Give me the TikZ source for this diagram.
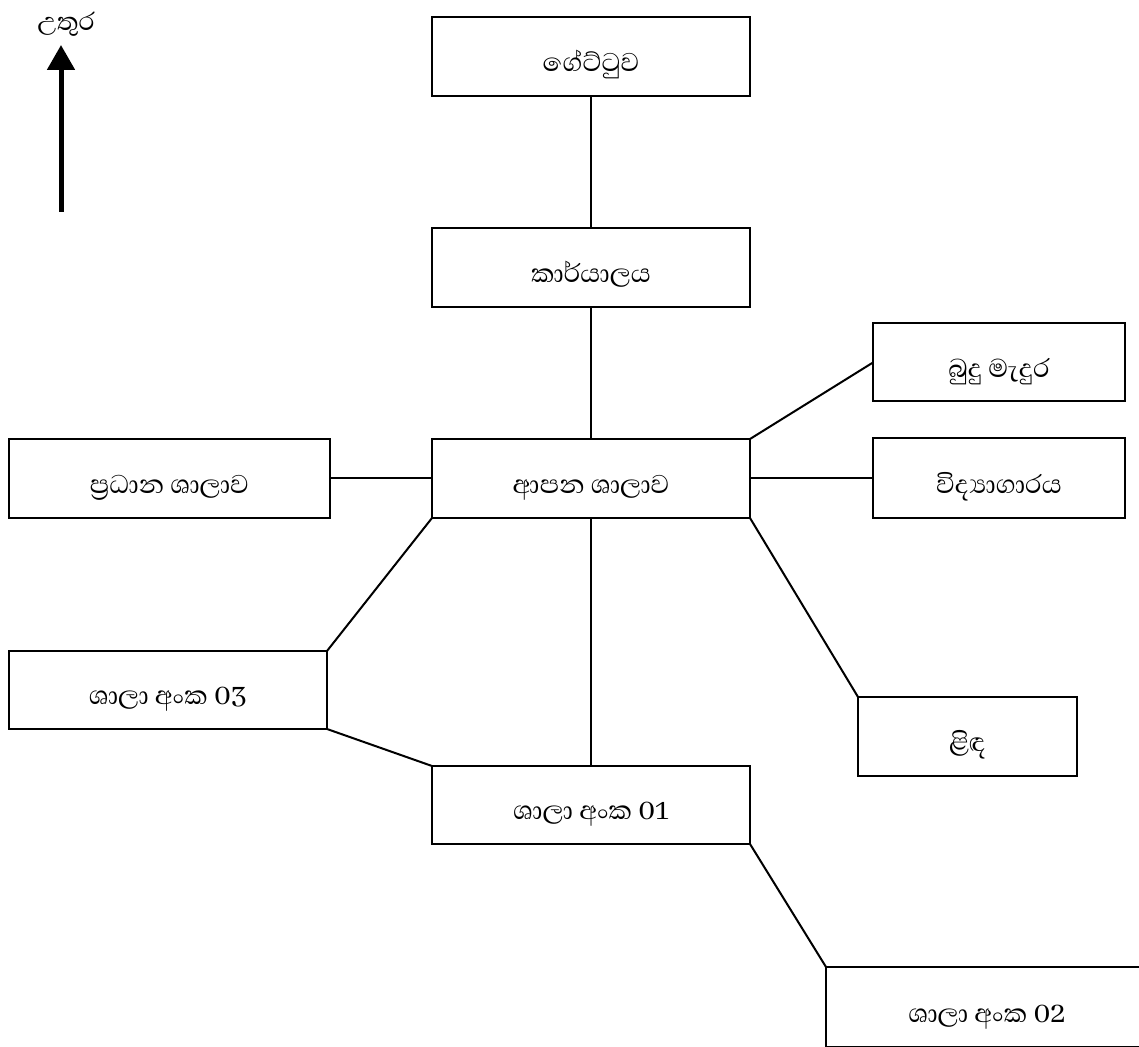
\documentclass[tikz,border=0pt]{standalone}
\usepackage{fontspec}
\newfontfamily\sinhala[Script=Sinhala]{Abhaya Libre}
\usepackage{tikz}
\usetikzlibrary{positioning,arrows.meta}

\begin{document}
\begin{tikzpicture}[x=1pt,y=1pt,
	room/.style={draw,line width=2pt,minimum width=318pt,minimum height=79pt,inner sep=0pt,outer sep=0pt,text height=30pt,text depth=0pt,font=\sinhala\fontsize{33}{36}\selectfont},
	smallroom/.style={room,minimum width=252pt},
	link/.style={line width=2pt}]
	\clip (0,0) rectangle (1139,1046);
	\useasboundingbox (0,0) rectangle (1139,1046);

	% north sign
	\node[font=\sinhala\fontsize{32}{36}\selectfont,inner sep=0pt] (north) at (66,1022) {උතුර};
	\coordinate (northfoot) at (61,834);
	\coordinate (northtip) at (61,1001);
	\draw[line width=5pt,-{Triangle[length=25pt,width=27pt]}] (northfoot) -- (northtip);

	% rooms
	\node[room] (gate) at (591,989.5) {ගේට්ටුව};
	\node[room] (office) [below=132pt of gate] {කාර්යාලය};
	\node[room] (canteen) [below=132pt of office] {ආපන ශාලාව};
	\node[room,minimum width=321pt] (mainhall) [left=102pt of canteen] {ප්‍රධාන ශාලාව};
	\node[smallroom,minimum height=80pt] (lab) [right=123pt of canteen] {විද්‍යාගාරය};
	\node[smallroom,minimum height=78pt] (shrine) [above=37pt of lab] {බුදු මැදුර};
	\node[room,minimum width=219pt] (well) [below right=179pt and 108pt of canteen] {ළිඳ};
	\node[room,minimum height=78pt] (hallthree) [below left=133pt and 105pt of canteen] {ශාලා අංක 03};
	\node[room,minimum height=78pt] (hallone) [below=248pt of canteen] {ශාලා අංක 01};
	\node[room,minimum width=322pt,minimum height=80pt] (halltwo) [below right=123pt and 76pt of hallone] {ශාලා අංක 02};

	% paths
	\draw[link] (gate) -- (office);
	\draw[link] (office) -- (canteen);
	\draw[link] (mainhall) -- (canteen);
	\draw[link] (canteen) -- (lab);
	\draw[link] (canteen.north east) -- (shrine.west);
	\draw[link] (canteen.south east) -- (well.north west);
	\draw[link] (canteen.south west) -- (hallthree.north east);
	\draw[link] (hallthree.south east) -- (hallone.north west);
	\draw[link] (canteen) -- (hallone);
	\draw[link] (hallone.south east) -- (halltwo.north west);
\end{tikzpicture}
\end{document}
